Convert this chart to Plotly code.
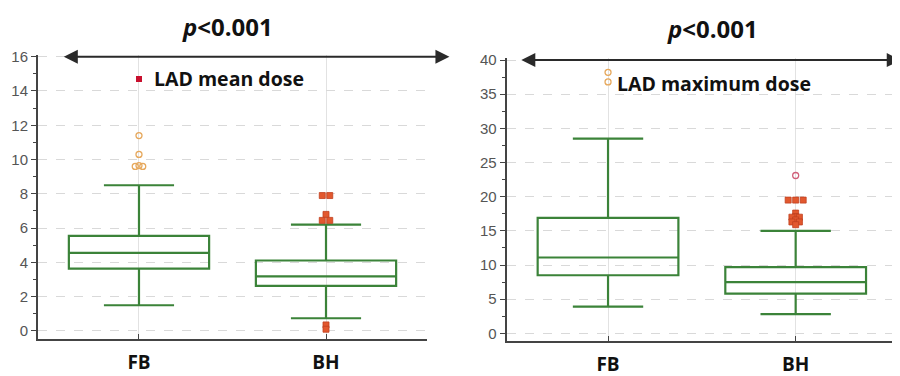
import plotly.graph_objects as go

# ---------------- data ----------------
categories = ["FB", "BH"]

# LAD mean dose (left panel)
mean_q1 = [3.64, 2.63]
mean_median = [4.56, 3.18]
mean_q3 = [5.55, 4.11]
mean_low = [1.5, 0.74]
mean_high = [8.5, 6.2]
mean_fb_near_out = [11.4, 10.3, 9.6, 9.6, 9.65]
mean_fb_far_out = [14.7]
mean_bh_far_out = [7.9, 7.9, 6.8, 6.45, 6.45, 0.35, 0.1]

# LAD maximum dose (right panel)
max_q1 = [8.5, 5.8]
max_median = [11.1, 7.5]
max_q3 = [16.9, 9.7]
max_low = [3.9, 2.8]
max_high = [28.5, 15.0]
max_fb_near_out = [38.2, 36.8]
max_bh_near_out = [23.1]
max_bh_far_out = [19.5, 19.5, 19.5, 17.6, 17.1, 17.0, 17.0, 16.6, 16.3, 16.3, 15.9]

panel_titles = ["LAD mean dose", "LAD maximum dose"]

GREEN = "#3b8339"
GRID = "#d9d9d9"
AXIS = "#444444"

W, H = 900, 376
OFF = 8  # page body margin of the browser


def px_x(a, b):
    return [(a - OFF) / W, (b - OFF) / W]


def px_y(top, bottom):
    return [1 - (bottom - OFF) / H, 1 - (top - OFF) / H]


def spread(values, cat_index, step=0.04):
    """Spread duplicated outlier values side by side around the category position."""
    xs = []
    counts = {}
    for v in values:
        counts[round(v, 2)] = counts.get(round(v, 2), 0) + 1
    seen = {}
    for v in values:
        k = round(v, 2)
        n = counts[k]
        i = seen.get(k, 0)
        seen[k] = i + 1
        xs.append(cat_index + (i - (n - 1) / 2) * step)
    return xs


fig = go.Figure()

# ---------- boxes ----------
for xa, ya, q1, med, q3, lo, hi in [
    ("x", "y", mean_q1, mean_median, mean_q3, mean_low, mean_high),
    ("x2", "y2", max_q1, max_median, max_q3, max_low, max_high),
]:
    fig.add_trace(go.Box(
        x=[0, 1], q1=q1, median=med, q3=q3, lowerfence=lo, upperfence=hi,
        boxpoints=False, width=0.75, whiskerwidth=0.5,
        line=dict(color=GREEN, width=2.2), fillcolor="rgba(255,255,255,0)",
        xaxis=xa, yaxis=ya, showlegend=False, hoverinfo="skip",
    ))

# ---------- outliers ----------
def circles(vals, ci, color, xa, ya):
    fig.add_trace(go.Scatter(
        x=spread(vals, ci), y=vals, mode="markers", xaxis=xa, yaxis=ya,
        marker=dict(symbol="circle-open", size=6, color=color, line=dict(width=1.3, color=color)),
        showlegend=False, hoverinfo="skip"))


def squares(vals, ci, color, xa, ya):
    fig.add_trace(go.Scatter(
        x=spread(vals, ci), y=vals, mode="markers", xaxis=xa, yaxis=ya,
        marker=dict(symbol="square", size=6, color=color, line=dict(width=0.8, color="#c0401f")),
        showlegend=False, hoverinfo="skip"))


circles(mean_fb_near_out, 0, "#e6a85c", "x", "y")
fig.add_trace(go.Scatter(
    x=spread(mean_fb_far_out, 0), y=mean_fb_far_out, mode="markers", xaxis="x", yaxis="y",
    marker=dict(symbol="square", size=6, color="#c8102e"), showlegend=False, hoverinfo="skip"))
squares(mean_bh_far_out, 1, "#e2582e", "x", "y")

circles(max_fb_near_out, 0, "#e6a85c", "x2", "y2")
circles(max_bh_near_out, 1, "#d0607a", "x2", "y2")
squares(max_bh_far_out, 1, "#e2582e", "x2", "y2")

# ---------- axes ----------
tickfont = dict(family="Liberation Sans, Arial", size=15, color="#555555")
catfont = dict(family="Open Sans, Lato, sans-serif", size=19, color="#111111")

common_x = dict(
    tickmode="array", tickvals=[0, 1], ticktext=["<b>%s</b>" % c for c in categories],
    range=[-0.54, 1.54], showgrid=True, gridcolor="#e2e2e2", gridwidth=1,
    showline=True, linecolor=AXIS, linewidth=2, ticks="inside", ticklen=5, tickcolor=AXIS,
    tickfont=catfont, ticklabelstandoff=5, zeroline=False, fixedrange=True,
    automargin=False,
)
common_y = dict(
    showgrid=True, gridcolor=GRID, griddash="dash", gridwidth=1,
    showline=True, linecolor=AXIS, linewidth=2, ticks="outside", ticklen=5, tickcolor=AXIS,
    tickfont=tickfont, zeroline=False, automargin=False,
)

fig.update_layout(
    width=W, height=H, margin=dict(l=0, r=0, t=0, b=0, autoexpand=False),
    paper_bgcolor="white", plot_bgcolor="white",
    xaxis=dict(domain=px_x(38, 427), anchor="y", **common_x),
    yaxis=dict(domain=px_y(55, 339), anchor="x", range=[-0.47, 16.1], dtick=2,
               minor=dict(ticks="outside", ticklen=3, tickcolor=AXIS, showgrid=False, dtick=1),
               **common_y),
    xaxis2=dict(domain=px_x(506.7, 897), anchor="y2", **common_x),
    yaxis2=dict(domain=px_y(58, 340.7), anchor="x2", range=[-1.08, 40.3], dtick=5,
                minor=dict(ticks="outside", ticklen=3, tickcolor=AXIS, showgrid=False, dtick=2.5),
                **common_y),
)

# ---------- annotations ----------
title_html = "<b><i>p</i>&lt;0.001</b>"
ann = []
for xref, yref, ytop, xl, xr, label, lx, ly in [
    ("x", "y", 16, -0.41, 1.66, panel_titles[0], 0.07, 14.75),
    ("x2", "y2", 40, -0.47, 1.56, panel_titles[1], 0.035, 36.6),
]:
    ann.append(dict(
        x=xr, y=ytop, ax=xl, ay=ytop, xref=xref, yref=yref, axref=xref, ayref=yref,
        text="", showarrow=True, arrowhead=2, arrowsize=1.4, arrowwidth=2,
        arrowside="end+start", arrowcolor="#2a2a2a"))
    ann.append(dict(
        x=lx, y=ly, xref=xref, yref=yref, xanchor="left", yanchor="middle",
        text="<b>%s</b>" % label, showarrow=False,
        font=dict(family="Open Sans, Lato, sans-serif", size=19.5, color="#111111")))

for cx, cy in [(227, 27), (712, 28)]:
    ann.append(dict(x=(cx - OFF) / W, y=1 - (cy - OFF) / H, xref="paper", yref="paper",
                    text=title_html, showarrow=False, xanchor="center", yanchor="middle",
                    font=dict(family="Open Sans, Lato, sans-serif", size=24, color="#111111")))

fig.update_layout(annotations=ann)

fig.write_html("out.html")
